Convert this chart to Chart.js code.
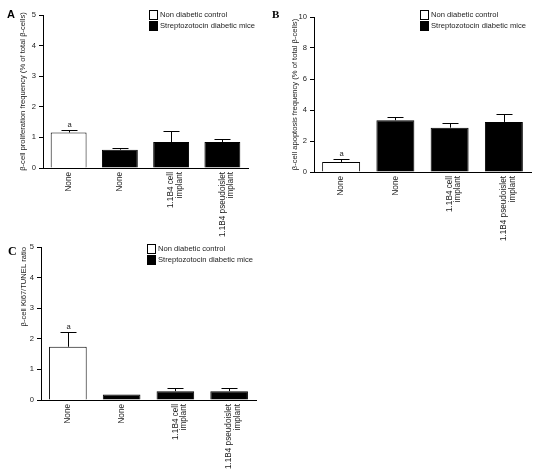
<!DOCTYPE html>
<html>
<head>
<meta charset="utf-8">
<script src="https://cdn.jsdelivr.net/npm/chart.js@4.4.0/dist/chart.umd.min.js"></script>
<style>
  body { margin: 0; background: #fff; }
  #wrap { position: relative; width: 542px; height: 475px; overflow: hidden; }
  .panel { position: absolute; }
  .letter { position: absolute; font-weight: bold; color: #000; }
</style>
</head>
<body>
<div id="wrap">
  <div class="panel" style="left:0;top:235px;width:271px;height:240px"><canvas id="chartC"></canvas></div>
  <div class="panel" style="left:0;top:0;width:271px;height:250px"><canvas id="chartA"></canvas></div>
  <div class="panel" style="left:271px;top:0;width:271px;height:250px"><canvas id="chartB"></canvas></div>
  <div class="letter" style="left:7px;top:8px;font:bold 11px 'Liberation Sans'">A</div>
  <div class="letter" style="left:272px;top:8px;font:bold 11px 'Liberation Serif'">B</div>
  <div class="letter" style="left:8px;top:244px;font:bold 12px 'Liberation Serif'">C</div>
</div>
<script>
const categories = ['None', 'None', ['1.1B4 cell', 'implant'], ['1.1B4 pseudoislet', 'implant']];
const seriesNames = ['Non diabetic control', 'Streptozotocin diabetic mice'];

// bar heights and upper end of error bars
const proliferation = [1.16, 0.6, 0.85, 0.85];
const proliferationErr = [1.24, 0.64, 1.2, 0.95];
const apoptosis = [0.65, 3.34, 2.86, 3.23];
const apoptosisErr = [0.82, 3.58, 3.15, 3.72];
const ratio = [1.74, 0.18, 0.29, 0.29];
const ratioErr = [2.23, 0.18, 0.38, 0.38];
const marks = ['a', '', '', ''];

const FONT = 'Liberation Sans';

const errorBars = {
  id: 'errorBars',
  afterDatasetsDraw(chart, args, opts) {
    const ctx = chart.ctx;
    const xs = chart.scales.x, ys = chart.scales.y;
    ctx.save();
    ctx.strokeStyle = '#000';
    ctx.lineWidth = 1;
    opts.values.forEach((v, i) => {
      const x = Math.round(xs.getPixelForValue(i)) + 0.5;
      const y0 = ys.getPixelForValue(v);
      const y1 = Math.round(ys.getPixelForValue(opts.tops[i])) + 0.5;
      if (y0 - y1 > 1) {
        ctx.beginPath();
        ctx.moveTo(x, y0);
        ctx.lineTo(x, y1);
        ctx.moveTo(x - 8, y1);
        ctx.lineTo(x + 8, y1);
        ctx.stroke();
      }
      if (opts.marks[i]) {
        ctx.fillStyle = '#222';
        ctx.font = '7.6px ' + FONT;
        ctx.textAlign = 'center';
        ctx.textBaseline = 'bottom';
        ctx.fillText(opts.marks[i], x, y1 - 2);
      }
    });
    ctx.restore();
  }
};

const boxLegend = {
  id: 'boxLegend',
  afterDraw(chart, args, opts) {
    const ctx = chart.ctx;
    const a = chart.chartArea;
    ctx.save();
    ctx.font = '7.6px ' + FONT;
    ctx.textBaseline = 'middle';
    ctx.textAlign = 'left';
    chart.data.datasets.forEach((ds, i) => {
      const bx = a.left + opts.dx;
      const cy = a.top + opts.dy + i * 11;
      ctx.fillStyle = ds.backgroundColor;
      ctx.fillRect(bx, cy - 4.5, 8, 9);
      ctx.strokeStyle = '#000';
      ctx.lineWidth = 1;
      ctx.strokeRect(bx + 0.5, cy - 4.5, 8, 9);
      ctx.fillStyle = '#222';
      ctx.fillText(ds.label, bx + 11, cy);
    });
    ctx.restore();
  }
};

function makeChart(id, values, tops, yMax, yStep, title, titleAlign, box, legendDy) {
  const colors = ['#ffffff', '#000000'];
  const datasets = seriesNames.map((name, s) => ({
    label: name,
    data: values.map((v, i) => (s === 0 ? (i === 0 ? v : null) : (i === 0 ? null : v))),
    backgroundColor: colors[s],
    borderColor: '#000',
    borderWidth: 1,
    borderSkipped: 'bottom',
    barPercentage: 0.7,
    categoryPercentage: 1
  }));
  return new Chart(document.getElementById(id), {
    type: 'bar',
    data: { labels: categories, datasets: datasets },
    plugins: [errorBars, boxLegend],
    options: {
      responsive: true,
      maintainAspectRatio: false,
      animation: false,
      layout: { padding: { left: 0, top: box.top, right: box.right, bottom: 0 } },
      plugins: {
        legend: { display: false },
        tooltip: { enabled: false },
        errorBars: { values: values, tops: tops, marks: marks },
        boxLegend: { dx: 106, dy: legendDy }
      },
      scales: {
        x: {
          stacked: true,
          afterFit: (s) => { s.height = box.xh; },
          grid: { display: false, drawTicks: false },
          border: { display: true, color: '#000', width: 1 },
          ticks: {
            autoSkip: false,
            minRotation: 90,
            maxRotation: 90,
            padding: 4,
            color: '#222',
            font: { family: FONT, size: 8.2, lineHeight: 1.05 }
          }
        },
        y: {
          stacked: true,
          min: 0,
          max: yMax,
          afterFit: (s) => { s.width = box.left; },
          grid: { drawOnChartArea: false, drawTicks: true, tickLength: 4, color: '#000' },
          border: { display: true, color: '#000', width: 1 },
          ticks: {
            stepSize: yStep,
            padding: 3,
            color: '#222',
            font: { family: FONT, size: 7.6 }
          },
          title: {
            display: true,
            text: title,
            align: titleAlign,
            color: '#222',
            font: { family: FONT, size: 7.6 },
            padding: { top: box.titleOff, bottom: 0 }
          }
        }
      }
    }
  });
}

makeChart('chartA', proliferation, proliferationErr, 5, 1,
  'β-cell proliferation frequency (% of total β-cells)', 'center',
  { left: 43, top: 15, right: 23, xh: 82, titleOff: 18.5 }, 0);
makeChart('chartB', apoptosis, apoptosisErr, 10, 2,
  'β-cell apoptosis frequency (% of total β-cells)', 'center',
  { left: 43, top: 17, right: 11, xh: 78, titleOff: 19.5 }, -2);
makeChart('chartC', ratio, ratioErr, 5, 1,
  'β-cell Ki67/TUNEL ratio', 'end',
  { left: 41, top: 12, right: 15, xh: 75, titleOff: 19.5 }, 2);
</script>
</body>
</html>
